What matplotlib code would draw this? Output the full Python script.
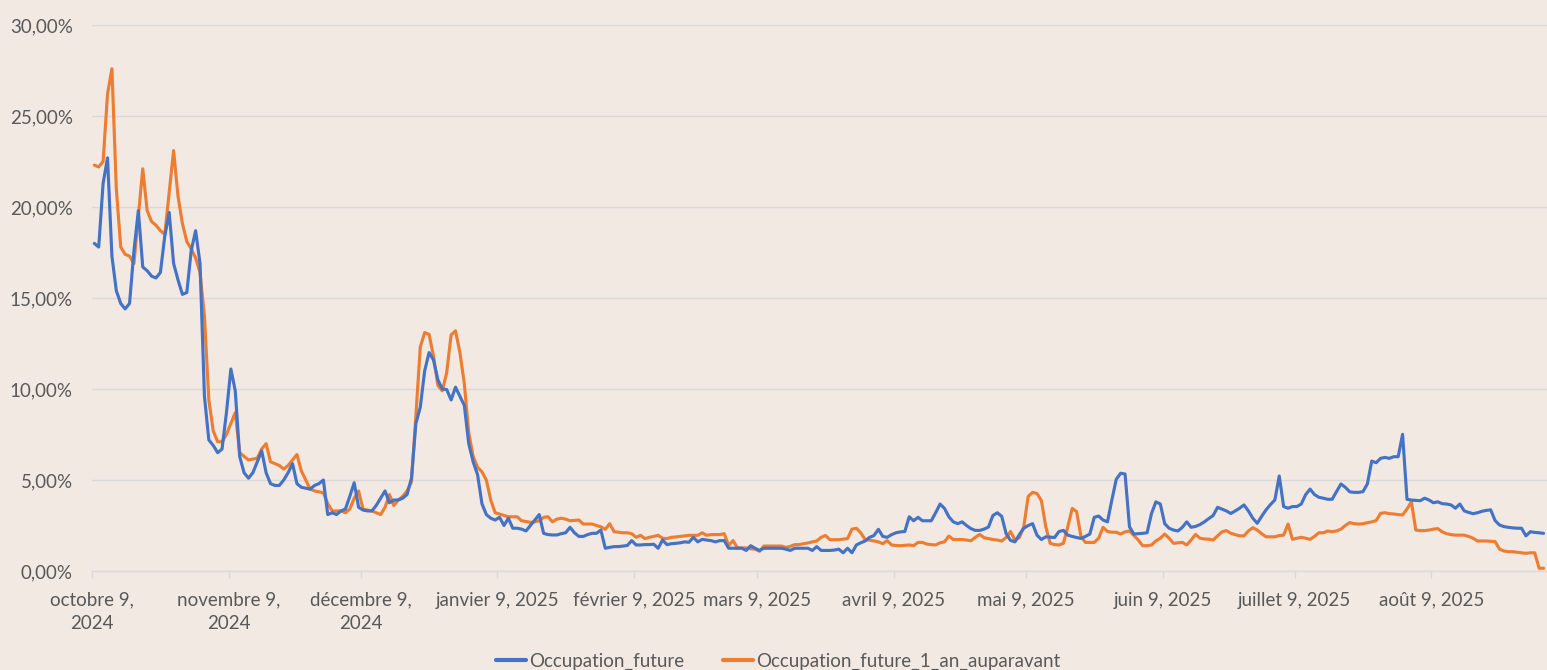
import matplotlib
matplotlib.use("Agg")
import matplotlib.pyplot as plt
import numpy as np
from matplotlib.ticker import FuncFormatter, FixedLocator

# Daily values (%), starting 9 Oct 2024
occupation_future = [
    18.0, 17.8, 21.3, 22.7, 17.3, 15.4, 14.7, 14.4, 14.7, 17.6,
    19.8, 16.7, 16.5, 16.2, 16.1, 16.4, 18.4, 19.7, 16.9, 16.0,
    15.2, 15.3, 17.6, 18.7, 16.9, 9.6, 7.2, 6.9, 6.5, 6.7,
    8.7, 11.1, 9.9, 6.3, 5.4, 5.1, 5.4, 6.0, 6.6, 5.4,
    4.8, 4.7, 4.7, 5.0, 5.4, 5.9, 4.8, 4.6, 4.55, 4.5,
    4.7, 4.8, 5.0, 3.1, 3.2, 3.1, 3.3, 3.4, 4.1, 4.85,
    3.5, 3.35, 3.3, 3.3, 3.6, 4.0, 4.4, 3.75, 3.9, 3.9,
    4.0, 4.2, 5.1, 8.1, 9.0, 11.0, 12.0, 11.6, 10.5, 10.0,
    9.97, 9.4, 10.1, 9.6, 9.1, 7.0, 6.0, 5.3, 3.7, 3.1,
    2.9, 2.8, 2.95, 2.5, 2.9, 2.35, 2.35, 2.3, 2.2, 2.5,
    2.8, 3.1, 2.07, 2.0, 1.98, 1.98, 2.05, 2.1, 2.4, 2.1,
    1.9, 1.9, 2.0, 2.07, 2.07, 2.25, 1.25, 1.3, 1.34, 1.34,
    1.37, 1.4, 1.67, 1.43, 1.43, 1.45, 1.45, 1.47, 1.25, 1.7,
    1.45, 1.5, 1.52, 1.55, 1.6, 1.58, 1.85, 1.6, 1.74, 1.7,
    1.67, 1.6, 1.67, 1.67, 1.25, 1.25, 1.25, 1.25, 1.13, 1.39,
    1.25, 1.13, 1.25, 1.25, 1.25, 1.25, 1.25, 1.2, 1.13, 1.25,
    1.25, 1.25, 1.25, 1.13, 1.34, 1.13, 1.13, 1.13, 1.15, 1.2,
    1.0, 1.25, 1.0, 1.43, 1.55, 1.65, 1.85, 1.95, 2.29, 1.9,
    1.85, 2.0, 2.1, 2.15, 2.17, 2.98, 2.76, 2.95, 2.76, 2.76,
    2.76, 3.2, 3.68, 3.44, 2.98, 2.7, 2.6, 2.7, 2.5, 2.33,
    2.23, 2.23, 2.3, 2.42, 3.05, 3.2, 3.0, 2.05, 1.68, 1.6,
    2.0, 2.35, 2.5, 2.6, 1.97, 1.73, 1.88, 1.86, 1.84, 2.17,
    2.23, 1.97, 1.9, 1.84, 1.79, 1.9, 2.03, 2.95, 3.02, 2.8,
    2.7, 3.9, 5.04, 5.37, 5.33, 2.43, 2.03, 2.05, 2.07, 2.1,
    3.16, 3.8, 3.68, 2.6, 2.35, 2.25, 2.2, 2.4, 2.7, 2.4,
    2.45, 2.55, 2.7, 2.88, 3.05, 3.5, 3.4, 3.3, 3.16, 3.3,
    3.45, 3.63, 3.3, 2.9, 2.62, 3.0, 3.36, 3.65, 3.9, 5.22,
    3.54, 3.45, 3.54, 3.54, 3.68, 4.2, 4.5, 4.2, 4.05, 4.0,
    3.94, 3.94, 4.36, 4.78, 4.6, 4.35, 4.32, 4.32, 4.36, 4.78,
    6.04, 5.95, 6.19, 6.24, 6.19, 6.28, 6.28, 7.51, 3.94, 3.9,
    3.88, 3.86, 4.0, 3.9, 3.75, 3.8, 3.7, 3.68, 3.63, 3.45,
    3.68, 3.3, 3.22, 3.15, 3.2, 3.28, 3.33, 3.36, 2.77, 2.53,
    2.44, 2.4, 2.37, 2.35, 2.35, 1.93, 2.16, 2.12, 2.1, 2.07,
]

occupation_future_1_an = [
    22.3, 22.2, 22.5, 26.2, 27.6, 21.0, 17.8, 17.4, 17.3, 16.9,
    19.5, 22.1, 19.8, 19.2, 19.0, 18.7, 18.5, 20.8, 23.1, 20.6,
    19.1, 18.1, 17.7, 17.2, 16.4, 14.0, 9.4, 7.7, 7.1, 7.1,
    7.5, 8.1, 8.7, 6.5, 6.3, 6.1, 6.15, 6.2, 6.7, 7.0,
    6.0, 5.9, 5.8, 5.6, 5.8, 6.1, 6.4, 5.5, 5.0, 4.5,
    4.4, 4.35, 4.3, 3.7, 3.3, 3.3, 3.3, 3.2, 3.4, 4.0,
    4.4, 3.4, 3.35, 3.3, 3.2, 3.1, 3.5, 4.2, 3.6, 3.9,
    4.1, 4.4, 4.9, 8.5, 12.3, 13.1, 13.0, 11.8, 10.2, 9.9,
    10.9, 12.97, 13.2, 12.0, 10.3, 7.6, 6.3, 5.7, 5.45, 5.0,
    3.9, 3.2, 3.13, 3.05, 2.98, 2.98, 2.98, 2.76, 2.72, 2.67,
    2.7, 2.76, 2.95, 2.98, 2.7, 2.85, 2.9, 2.85, 2.76, 2.78,
    2.8, 2.58, 2.58, 2.58, 2.5, 2.43, 2.29, 2.6, 2.16, 2.13,
    2.1, 2.1, 2.05, 1.85, 1.96, 1.78, 1.85, 1.9, 1.96, 1.8,
    1.78, 1.85, 1.87, 1.9, 1.93, 1.96, 1.96, 1.96, 2.1, 1.96,
    2.0, 2.0, 2.0, 2.05, 1.4, 1.67, 1.27, 1.27, 1.27, 1.22,
    1.2, 1.08, 1.37, 1.37, 1.37, 1.37, 1.37, 1.3, 1.35, 1.45,
    1.45, 1.5, 1.54, 1.6, 1.65, 1.85, 1.95, 1.72, 1.72, 1.72,
    1.75, 1.78, 2.3, 2.35, 2.1, 1.72, 1.7, 1.65, 1.6, 1.5,
    1.67, 1.43, 1.4, 1.39, 1.41, 1.43, 1.39, 1.57, 1.57, 1.48,
    1.45, 1.43, 1.55, 1.6, 1.92, 1.73, 1.73, 1.73, 1.7, 1.66,
    1.85, 2.01, 1.83, 1.78, 1.73, 1.7, 1.65, 1.84, 2.17, 1.7,
    1.84, 2.43, 4.1, 4.32, 4.26, 3.87, 2.43, 1.52, 1.45, 1.43,
    1.52, 2.43, 3.44, 3.26, 1.88, 1.57, 1.57, 1.57, 1.8, 2.4,
    2.17, 2.13, 2.13, 2.03, 2.15, 2.2, 1.95, 1.7, 1.39, 1.39,
    1.43, 1.65, 1.8, 2.03, 1.8, 1.52, 1.55, 1.57, 1.43, 1.7,
    2.01, 1.8, 1.76, 1.75, 1.7, 1.93, 2.15, 2.22, 2.07, 2.0,
    1.93, 1.93, 2.2, 2.38, 2.25, 2.05, 1.88, 1.88, 1.88, 1.95,
    1.97, 2.58, 1.74, 1.8, 1.85, 1.8, 1.74, 1.9, 2.1, 2.1,
    2.2, 2.16, 2.2, 2.3, 2.5, 2.66, 2.6, 2.58, 2.6, 2.65,
    2.7, 2.77, 3.17, 3.2, 3.15, 3.13, 3.1, 3.08, 3.4, 3.81,
    2.25, 2.22, 2.22, 2.25, 2.3, 2.33, 2.15, 2.05, 2.0, 1.97,
    1.97, 1.97, 1.9, 1.8, 1.65, 1.65, 1.65, 1.63, 1.62, 1.2,
    1.1, 1.06, 1.06, 1.03, 1.0, 0.97, 1.0, 1.0, 0.15, 0.15,
]

# Day offsets (from 9 Oct 2024) of the axis ticks, and their labels
tick_days = [0, 31, 61, 92, 123, 151, 182, 212, 243, 273, 304]
tick_labels = ["octobre 9,\n2024", "novembre 9,\n2024", "décembre 9,\n2024",
               "janvier 9, 2025", "février 9, 2025", "mars 9, 2025",
               "avril 9, 2025", "mai 9, 2025", "juin 9, 2025",
               "juillet 9, 2025", "août 9, 2025"]
y_ticks = [0, 5, 10, 15, 20, 25, 30]
series_names = ["Occupation_future", "Occupation_future_1_an_auparavant"]

BG = "#F2E9E3"
BLUE = "#4472C4"
ORANGE = "#ED7D31"
GRID = "#D9D9D9"
TXT = "#595959"
FS = 13.5

plt.rcParams['font.family'] = ['Lato', 'DejaVu Sans']

fig = plt.figure(figsize=(15.47, 6.70), dpi=100, facecolor=BG)
ax = fig.add_axes([92.1 / 1547, 1 - 571 / 670, 1 - 92.1 / 1547, 546 / 670])
ax.set_facecolor(BG)

xb = np.arange(len(occupation_future)) + 0.5
xo = np.arange(len(occupation_future_1_an)) + 0.5
l1, = ax.plot(xb, occupation_future, color=BLUE, lw=2.25, solid_joinstyle='round',
              solid_capstyle='round', label=series_names[0], zorder=3)
l2, = ax.plot(xo, occupation_future_1_an, color=ORANGE, lw=2.25, solid_joinstyle='round',
              solid_capstyle='round', label=series_names[1], zorder=2)

ax.set_xlim(0, (1547 - 92.1) / 4.405)
ax.set_ylim(0, 30)

ax.yaxis.set_major_locator(FixedLocator(y_ticks))
ax.yaxis.set_major_formatter(FuncFormatter(lambda v, p: f"{v:.2f}".replace(".", ",") + "%"))
ax.grid(axis='y', color=GRID, lw=1.0, zorder=0)
ax.set_xticks(tick_days)
ax.set_xticklabels(tick_labels, fontsize=FS, color=TXT, linespacing=1.45)
ax.tick_params(axis='x', length=5, color=GRID, width=1, pad=10)
ax.tick_params(axis='y', length=0, pad=14, labelsize=FS, labelcolor=TXT)

for s in ['top', 'right', 'left']:
    ax.spines[s].set_visible(False)
ax.spines['bottom'].set_color(GRID)
ax.spines['bottom'].set_linewidth(1.0)
ax.set_axisbelow(True)

leg = fig.legend(handles=[l1, l2], loc='center', bbox_to_anchor=(778 / 1547, 1 - 661 / 670),
                 ncol=2, frameon=False, fontsize=FS, handlelength=1.6, handletextpad=0.15,
                 columnspacing=2.1, labelcolor=TXT)
for lh in leg.legend_handles:
    lh.set_linewidth(3)

fig.savefig("out.png", dpi=100, facecolor=BG)
